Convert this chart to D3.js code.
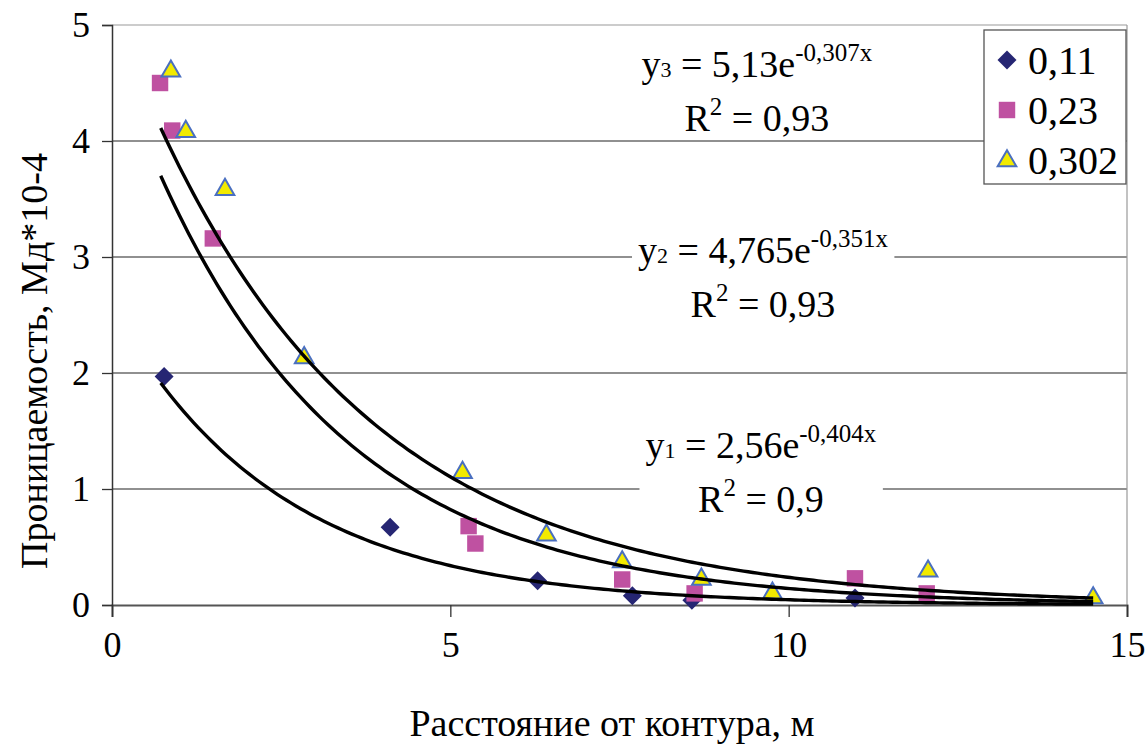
<!DOCTYPE html>
<html>
<head>
<meta charset="utf-8">
<script src="https://cdn.jsdelivr.net/npm/d3@7"></script>
<style>
  body { margin: 0; background: #fff; }
</style>
</head>
<body>
<svg id="chart" width="1147" height="744"></svg>
<script>
// data
var seriesNames = ["0,11", "0,23", "0,302"];

var pts011 = [[0.77, 1.97], [4.11, 0.67], [6.29, 0.21], [7.69, 0.08], [8.57, 0.04], [10.98, 0.06]];
var pts023 = [[0.71, 4.50], [0.89, 4.09], [1.49, 3.16], [5.27, 0.68], [5.37, 0.53], [7.54, 0.22],
              [8.61, 0.10], [10.98, 0.23], [12.04, 0.10]];
var pts0302 = [[0.87, 4.61], [1.09, 4.09], [1.67, 3.59], [2.84, 2.14], [5.18, 1.15], [6.42, 0.61],
               [7.54, 0.38], [8.71, 0.23], [9.76, 0.11], [12.06, 0.30], [14.50, 0.07]];

// trend coefficients y = a*e^(b*x)
var trendA = [2.56, 4.765, 5.13];
var trendB = [-0.404, -0.351, -0.307];
var trendRange = [0.72, 14.5];
var trendSub = ["1", "2", "3"];
var trendMain = ["2,56e", "4,765e", "5,13e"];
var trendExp = ["-0,404x", "-0,351x", "-0,307x"];
var trendR2 = ["0,9", "0,93", "0,93"];

var xTicks = [0, 5, 10, 15];
var yTicks = [0, 1, 2, 3, 4, 5];

var FONT = "Liberation Serif";
var svg = d3.select("#chart").style("font-family", FONT);

var x = d3.scaleLinear().domain([0, 15]).range([112, 1127]);
var y = d3.scaleLinear().domain([0, 5]).range([605, 25]);

// gridlines
svg.append("g").selectAll("line").data(yTicks.slice(1)).enter().append("line")
  .attr("x1", x(0)).attr("x2", x(15))
  .attr("y1", function(d) { return y(d); }).attr("y2", function(d) { return y(d); })
  .attr("stroke", function(d) { return d == 5 ? "#999" : "#222"; })
  .attr("stroke-width", 1.2);

// right border
svg.append("line").attr("x1", x(15)).attr("x2", x(15)).attr("y1", y(5)).attr("y2", y(0))
  .attr("stroke", "#999").attr("stroke-width", 1.2);

// axes
var xAxis = svg.append("g").attr("transform", "translate(0," + y(0) + ")")
  .call(d3.axisBottom(x).tickValues(xTicks).tickSize(12).tickPadding(14).tickFormat(d3.format("d")));
var yAxis = svg.append("g").attr("transform", "translate(" + x(0) + ",0)")
  .call(d3.axisLeft(y).tickValues(yTicks).tickSize(10).tickPadding(12).tickFormat(d3.format("d")));
[xAxis, yAxis].forEach(function(g) {
  g.attr("font-family", null).style("font-family", FONT);
  g.select(".domain").attr("stroke", "#333").attr("stroke-width", 1.5);
  g.selectAll(".tick line").attr("stroke", "#333").attr("stroke-width", 1.3);
  g.selectAll("text").style("font-family", FONT).attr("font-size", 36).attr("fill", "#000");
});
xAxis.select(".domain").attr("stroke", "#555").attr("stroke-width", 2);

// axis titles
svg.append("text").attr("x", 612).attr("y", 736).attr("text-anchor", "middle")
  .style("font-family", FONT).attr("font-size", 38).text("Расстояние от контура, м");
svg.append("text").attr("transform", "translate(47,361) rotate(-90)")
  .attr("text-anchor", "middle").style("font-family", FONT).attr("font-size", 38)
  .text("Проницаемость, Мд*10-4");

// markers
var diamond = d3.symbol().type(d3.symbolDiamond2).size(230);
var square = d3.symbol().type(d3.symbolSquare).size(270);
var triangle = d3.symbol().type(d3.symbolTriangle).size(150);

var markers = svg.append("g");
markers.selectAll(".s1").data(pts011).enter().append("path")
  .attr("d", diamond).attr("transform", function(d) { return "translate(" + x(d[0]) + "," + y(d[1]) + ")"; })
  .attr("fill", "#262673");
markers.selectAll(".s2").data(pts023).enter().append("path")
  .attr("d", square).attr("transform", function(d) { return "translate(" + x(d[0]) + "," + y(d[1]) + ")"; })
  .attr("fill", "#BF51A1");
markers.selectAll(".s3").data(pts0302).enter().append("path")
  .attr("d", triangle).attr("transform", function(d) { return "translate(" + x(d[0]) + "," + (y(d[1]) + 1) + ")"; })
  .attr("fill", "#F2EA00").attr("stroke", "#4A6FC0").attr("stroke-width", 2);

// trend lines
var line = d3.line().x(function(d) { return x(d[0]); }).y(function(d) { return y(d[1]); });
trendA.forEach(function(a, i) {
  var pts = d3.range(0, 201).map(function(k) {
    var xv = trendRange[0] + (trendRange[1] - trendRange[0]) * k / 200;
    return [xv, a * Math.exp(trendB[i] * xv)];
  });
  svg.append("path").datum(pts).attr("d", line)
    .attr("fill", "none").attr("stroke", "#000").attr("stroke-width", 3.4);
});

// equation labels
var labelPos = [[9.59, 1.27], [9.62, 2.95], [9.53, 4.55]];
trendA.forEach(function(a, i) {
  var g = svg.append("g").style("font-family", FONT);
  var bg = g.append("rect").attr("fill", "#fff");
  var cx = x(labelPos[i][0]), by = y(labelPos[i][1]);
  var t1 = g.append("text").attr("x", cx).attr("y", by).attr("text-anchor", "middle").attr("font-size", 38);
  t1.append("tspan").text("y");
  t1.append("tspan").attr("font-size", 22).text(trendSub[i]);
  t1.append("tspan").text(" = " + trendMain[i]);
  t1.append("tspan").attr("font-size", 25).attr("dy", -16).text(trendExp[i]);
  var t2 = g.append("text").attr("x", cx).attr("y", by + 54).attr("text-anchor", "middle").attr("font-size", 38);
  t2.append("tspan").text("R");
  t2.append("tspan").attr("font-size", 25).attr("dy", -16).text("2");
  t2.append("tspan").attr("dy", 16).text(" = " + trendR2[i]);
  var b1 = t1.node().getBBox(), b2 = t2.node().getBBox();
  var x0 = Math.min(b1.x, b2.x) - 6, x1 = Math.max(b1.x + b1.width, b2.x + b2.width) + 6;
  bg.attr("x", x0).attr("width", x1 - x0)
    .attr("y", b1.y - 2).attr("height", b2.y + b2.height - b1.y + 2);
});

// legend
var legend = svg.append("g").attr("transform", "translate(984,30)").style("font-family", FONT);
legend.append("rect").attr("width", 142).attr("height", 154)
  .attr("fill", "#fff").attr("stroke", "#555").attr("stroke-width", 1.3);
var legMarks = [
  { d: diamond, fill: "#262673", stroke: "none" },
  { d: square, fill: "#BF51A1", stroke: "none" },
  { d: triangle, fill: "#F2EA00", stroke: "#4A6FC0" }
];
seriesNames.forEach(function(name, i) {
  var row = legend.append("g").attr("transform", "translate(0," + (30 + i * 50) + ")");
  row.append("path").attr("d", legMarks[i].d).attr("transform", "translate(23," + (i == 2 ? 1 : 0) + ")")
    .attr("fill", legMarks[i].fill).attr("stroke", legMarks[i].stroke).attr("stroke-width", 2);
  row.append("text").attr("x", 44).attr("y", 14).attr("font-size", 40).text(name);
});
</script>
</body>
</html>
